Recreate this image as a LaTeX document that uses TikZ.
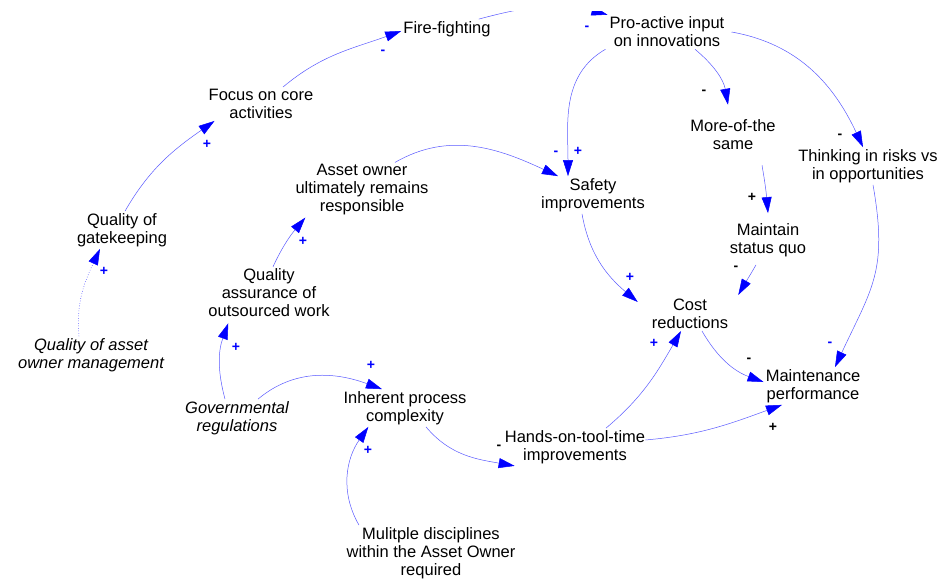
\documentclass[tikz,border=0pt]{standalone}
\usepackage{fontspec}
\setmainfont{Liberation Sans}
\usetikzlibrary{arrows.meta}

\tikzset{
  var/.style={align=center, inner sep=2pt, font=\fontsize{16.5}{18}\selectfont},
  exo/.style={var, font=\fontsize{16.5}{18}\selectfont\itshape},
  link/.style={draw=blue!65, line width=0.5pt, -{Triangle[length=16pt,width=10pt,color=blue]}},
  sgn/.style={inner sep=0pt, font=\fontsize{14}{14}\selectfont\bfseries, text=blue},
  sgnk/.style={sgn, text=black},
}

\begin{document}
\begin{tikzpicture}[x=1pt,y=-1pt]
\useasboundingbox (0,0) rectangle (942,581);
\node[var] (ff) at (447,29) {Fire-fighting};
\node[var] (pro) at (667,32) {Pro-active input\\on innovations};
\node[var] (focus) at (261,104) {Focus on core\\activities};
\node[var] (owner) at (362,190) {Asset owner\\ultimately remains\\responsible};
\node[var] (safety) at (593,195) {Safety\\improvements};
\node[var] (more) at (733,135) {More-of-the\\same};
\node[var] (risk) at (868,166) {Thinking in risks vs\\in opportunities};
\node[var] (quo) at (768,240) {Maintain\\status quo};
\node[var] (gate) at (122,230) {Quality of\\gatekeeping};
\node[var] (qa) at (269,293) {Quality\\assurance of\\outsourced work};
\node[var] (cost) at (690,314) {Cost\\reductions};
\node[exo] (mgmt) at (91,355) {Quality of asset\\owner management};
\node[var] (perf) at (813,386) {Maintenance\\performance};
\node[exo] (gov) at (237,418) {Governmental\\regulations};
\node[var] (cplx) at (405,408) {Inherent process\\complexity};
\node[var] (tool) at (575,447) {Hands-on-tool-time\\improvements};
\node[var] (disc) at (431,553) {Mulitple disciplines\\within the Asset Owner\\required};

\draw[link, draw=blue, dotted] ([xshift=-12pt]mgmt.north) to[out=95,in=-115] ([xshift=-22pt]gate.south);
\draw[link] ([xshift=3pt]gate.north) to[out=60,in=-145] ([xshift=8pt]focus.south west);
\draw[link] ([xshift=22pt]focus.north) to[out=40,in=-160] ([yshift=-2pt]ff.west);
\begin{scope}
\clip (0,11) rectangle (942,581);
\draw[link] ([xshift=-14pt]ff.north east) to[out=15,in=165] (pro.north west);
\end{scope}
\draw[link] ([xshift=-2pt]pro.south west) to[out=-150,in=90] ([xshift=-25pt]safety.north);
\draw[link] ([xshift=33pt]owner.north) to[out=30,in=155] ([xshift=19pt]safety.north west);
\draw[link] ([xshift=28pt]pro.south) to[out=-40,in=100] ([xshift=-5pt,yshift=13pt]more.north);
\draw[link] ([xshift=5pt]pro.east) to[out=-10,in=115] ([xshift=-5pt]risk.north);
\draw[link] ([xshift=29pt,yshift=-13pt]more.south) to[out=-80,in=95] ([yshift=8pt]quo.north);
\draw[link] ([xshift=-12pt,yshift=-6pt]quo.south) to[out=-120,in=60] ([xshift=8pt,yshift=2pt]cost.north east);
\draw[link] ([xshift=-11pt]safety.south) to[out=-80,in=140] ([xshift=-12pt,yshift=-5pt]cost.north west);
\draw[link] ([xshift=5pt]risk.south) to[out=-80,in=65,looseness=1.2] ([xshift=22pt]perf.north);
\draw[link] ([xshift=12pt]cost.south) to[out=-60,in=160] ([yshift=4pt]perf.west);
\draw[link] ([xshift=31pt]tool.north) to[out=40,in=-120] ([xshift=-9pt]cost.south);
\draw[link] ([xshift=-2pt,yshift=7pt]tool.east) to[out=5,in=-160] ([xshift=-31pt]perf.south);
\draw[link] ([xshift=21pt]cplx.south) to[out=-50,in=170] ([xshift=12pt]tool.south west);
\draw[link] ([xshift=21pt]gov.north) to[out=40,in=160] ([xshift=-23pt]cplx.north);
\draw[link] ([xshift=-12pt]gov.north) to[out=105,in=-110] ([xshift=22pt,yshift=-4pt]qa.south west);
\draw[link] ([xshift=4pt]qa.north) to[out=65,in=-130] ([xshift=12pt]owner.south west);
\draw[link] ([xshift=-72pt]disc.north) to[out=120,in=-125] ([xshift=27pt]cplx.south west);

\node[sgn] (p1) at (104,271) {+};
\node[sgn] (p2) at (207,144) {+};
\node[sgn] (p3) at (383,52) {-};
\node[sgn] (p4) at (587,28) {-};
\node[sgn] (p5) at (578,151) {+};
\node[sgn] (p6) at (556,153) {-};
\node[sgn] (p7) at (630,277) {+};
\node[sgn] (p8) at (830,344) {-};
\node[sgn] (p9) at (654,343) {+};
\node[sgn] (p10) at (371,365) {+};
\node[sgn] (p11) at (236,347) {+};
\node[sgn] (p12) at (303,241) {+};
\node[sgn] (p13) at (368,450) {+};
\node[sgnk] (p14) at (704,92) {-};
\node[sgnk] (p15) at (840,136) {-};
\node[sgnk] (p16) at (752,197) {+};
\node[sgnk] (p17) at (736,268) {-};
\node[sgnk] (p18) at (749,360) {-};
\node[sgnk] (p19) at (773,427) {+};
\node[sgnk] (p20) at (499,447) {-};
\end{tikzpicture}
\end{document}
